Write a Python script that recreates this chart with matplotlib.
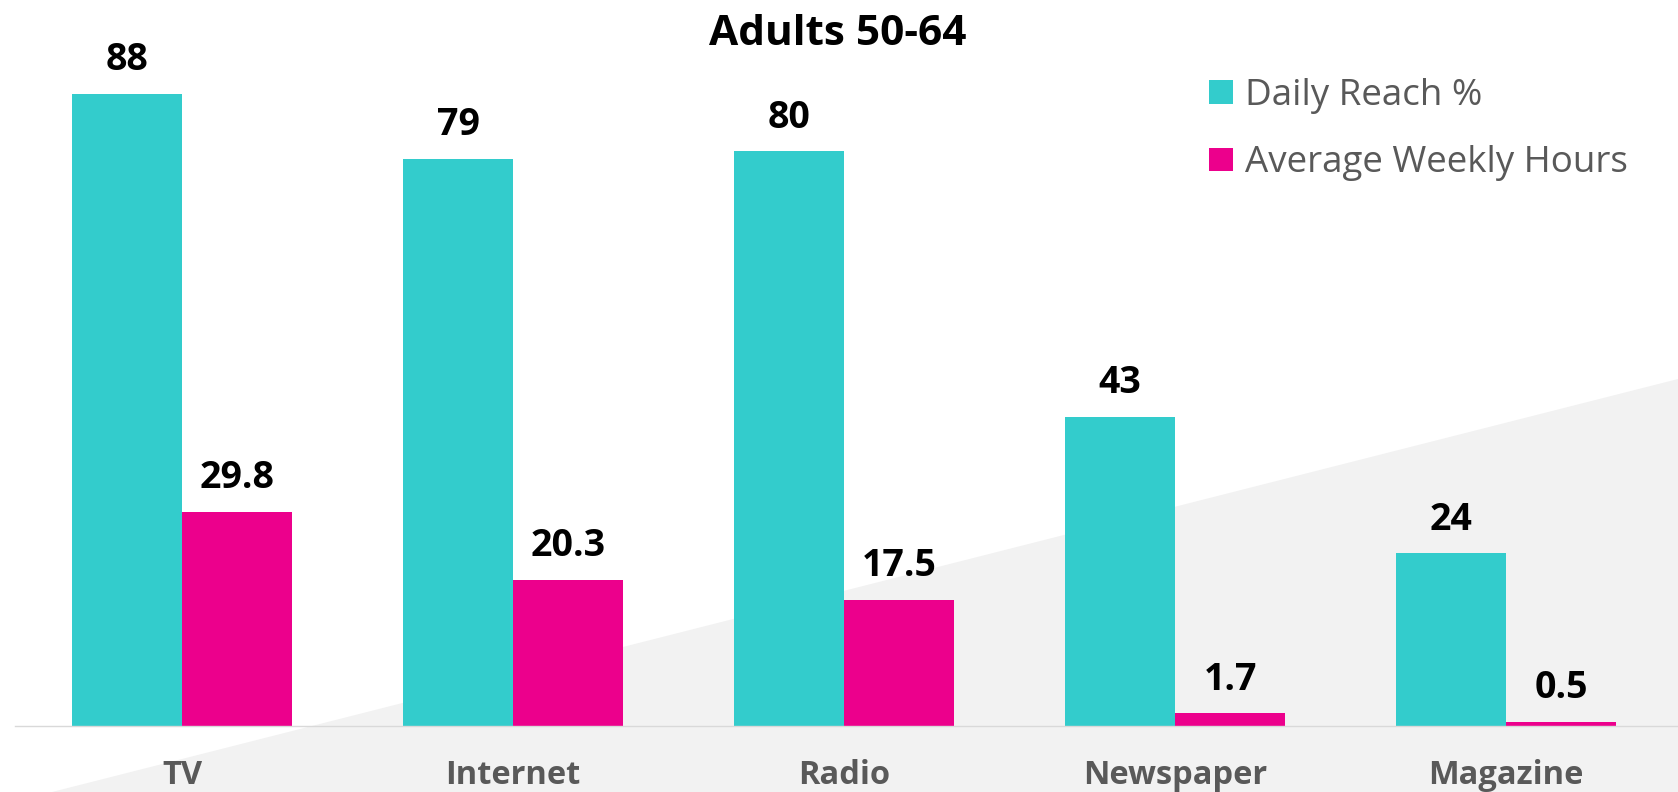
import numpy as np
import matplotlib
matplotlib.use("Agg")
import matplotlib.pyplot as plt
from matplotlib.patches import Polygon, Patch

categories = ["TV", "Internet", "Radio", "Newspaper", "Magazine"]
daily_reach = [88, 79, 80, 43, 24]
weekly_hours = [29.8, 20.3, 17.5, 1.7, 0.5]
series_names = ["Daily Reach %", "Average Weekly Hours"]
title = "Adults 50-64"

teal = "#33CCCC"
pink = "#EC008C"
grey_txt = "#595959"

plt.rcParams['font.family'] = ['Open Sans', 'DejaVu Sans']

W, H = 1678, 792
fig = plt.figure(figsize=(W / 100, H / 100), dpi=100)

# light grey wedge in the background
fig.patches.append(Polygon([(52 / W, 0), (1, 0), (1, 1 - 379 / H)], closed=True,
                           transform=fig.transFigure, facecolor="#F2F2F2",
                           edgecolor="none", zorder=-5))

ax = fig.add_axes([15 / W, (H - 725.6) / H, 1 - 15 / W, 725.6 / H])
ax.set_facecolor("none")
ax.set_zorder(2)

x = np.arange(len(categories))
w = 0.333
b1 = ax.bar(x - w / 2, daily_reach, w, color=teal, label=series_names[0], zorder=2)
b2 = ax.bar(x + w / 2, weekly_hours, w, color=pink, label=series_names[1], zorder=2)

for bars, vals in ((b1, daily_reach), (b2, weekly_hours)):
    for r, v in zip(bars, vals):
        ax.annotate(f"{v:g}", (r.get_x() + r.get_width() / 2, r.get_height()),
                    xytext=(0, 17), textcoords="offset points", ha="center",
                    va="baseline", fontsize=27, fontweight="bold", color="black")

ax.set_xlim(-0.505, 4.52)
ax.set_ylim(0, 101.1)
for s in ["top", "right", "left"]:
    ax.spines[s].set_visible(False)
ax.spines["bottom"].set_color("#D9D9D9")
ax.spines["bottom"].set_linewidth(1.0)
ax.set_yticks([])
ax.set_xticks(x)
ax.set_xticklabels(categories, fontsize=23.5, fontweight="bold", color=grey_txt)
ax.tick_params(axis="x", length=0, pad=24)

fig.text(838 / W, 1 - 45 / H, title, ha="center", va="baseline",
         fontsize=30.5, fontweight="bold", color="black")

handles = [Patch(facecolor=teal), Patch(facecolor=pink)]
leg = fig.legend(handles, series_names, loc="upper left",
                 bbox_to_anchor=(1209 / W, 1 - 78 / H), frameon=False,
                 fontsize=26.5, handlelength=0.64, handleheight=0.6,
                 handletextpad=0.35, labelspacing=0.85, borderaxespad=0,
                 borderpad=0)
for t in leg.get_texts():
    t.set_color(grey_txt)

fig.savefig("out.png", dpi=100)
